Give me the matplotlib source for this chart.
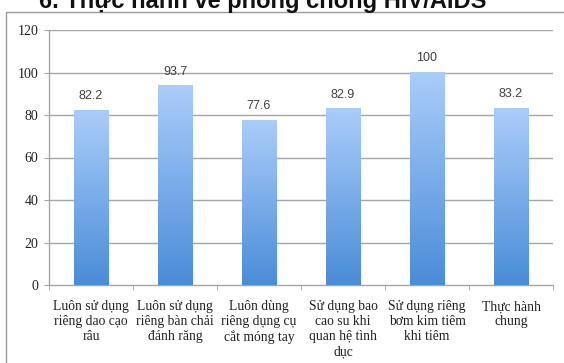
import numpy as np
import matplotlib.pyplot as plt
from matplotlib.colors import LinearSegmentedColormap

# data
categories = ["Luôn sử dụng\nriêng dao cạo\nrâu",
              "Luôn sử dụng\nriêng bàn chải\nđánh răng",
              "Luôn dùng\nriêng dụng cụ\ncắt móng tay",
              "Sử dụng bao\ncao su khi\nquan hệ tình\ndục",
              "Sử dụng riêng\nbơm kim tiêm\nkhi tiêm",
              "Thực hành\nchung"]
values = [82.2, 93.7, 77.6, 82.9, 100, 83.2]
value_labels = ["82.2", "93.7", "77.6", "82.9", "100", "83.2"]
yticks = [0, 20, 40, 60, 80, 100, 120]
title = "6. Thực hành về phòng chống HIV/AIDS"

W, H = 564, 363
fig = plt.figure(figsize=(W / 100, H / 100), dpi=100)
ax = fig.add_axes([49 / W, 1 - 285 / H, (553 - 49) / W, (285 - 30) / H])

grid_c = "#a6a6a6"
cmap = LinearSegmentedColormap.from_list("bar", ["#4a8cd8", "#aacdfa"])
grad = np.linspace(0, 1, 256).reshape(-1, 1)

x = np.arange(len(values))
bw = 0.41
for xi, v, lab in zip(x, values, value_labels):
    # gradient bar, dark at the base and light at the top
    ax.imshow(grad, cmap=cmap, origin="lower", aspect="auto",
              extent=[xi - bw / 2, xi + bw / 2, 0, v], zorder=3)
    ax.annotate(lab, (xi, v), xytext=(0, 6), textcoords="offset points",
                ha="center", va="bottom", fontsize=9, color="#404040",
                family="Liberation Sans")

ax.set_xlim(-0.5, len(values) - 0.5)
ax.set_ylim(0, 120)
ax.set_yticks(yticks)
ax.set_yticklabels([str(t) for t in yticks], family="Liberation Serif",
                   fontsize=10, color="#222222")
for t in yticks[1:]:
    ax.axhline(t, color=grid_c, lw=1.0, zorder=1)

ax.set_xticks(x)
ax.set_xticklabels(categories, family="Liberation Serif", fontsize=9.8,
                   color="#222222", linespacing=1.2)
ax.set_xticks(np.arange(len(values) + 1) - 0.5, minor=True)
ax.tick_params(axis="x", which="major", length=0, pad=11)
ax.tick_params(axis="x", which="minor", length=3.5, color=grid_c, direction="out")
ax.tick_params(axis="y", length=3.5, color=grid_c, pad=4)

for s in ["top", "right"]:
    ax.spines[s].set_visible(False)
for s in ["left", "bottom"]:
    ax.spines[s].set_color(grid_c)
    ax.spines[s].set_linewidth(1.0)

# outer frame of the slide box, only left and top edges visible
fig.lines.append(plt.Line2D([6 / W, 6 / W, 1.0], [0.0, 1 - 12 / H, 1 - 12 / H],
                            transform=fig.transFigure, color="#9a9a9a", lw=1.0))

# title is cut at the top edge, as in the reference
fig.text(263 / W, 1 - 8 / H, title, ha="center", va="baseline",
         fontsize=17, fontweight="bold", family="Liberation Sans", color="#111111")

fig.savefig("out.png", dpi=100)
